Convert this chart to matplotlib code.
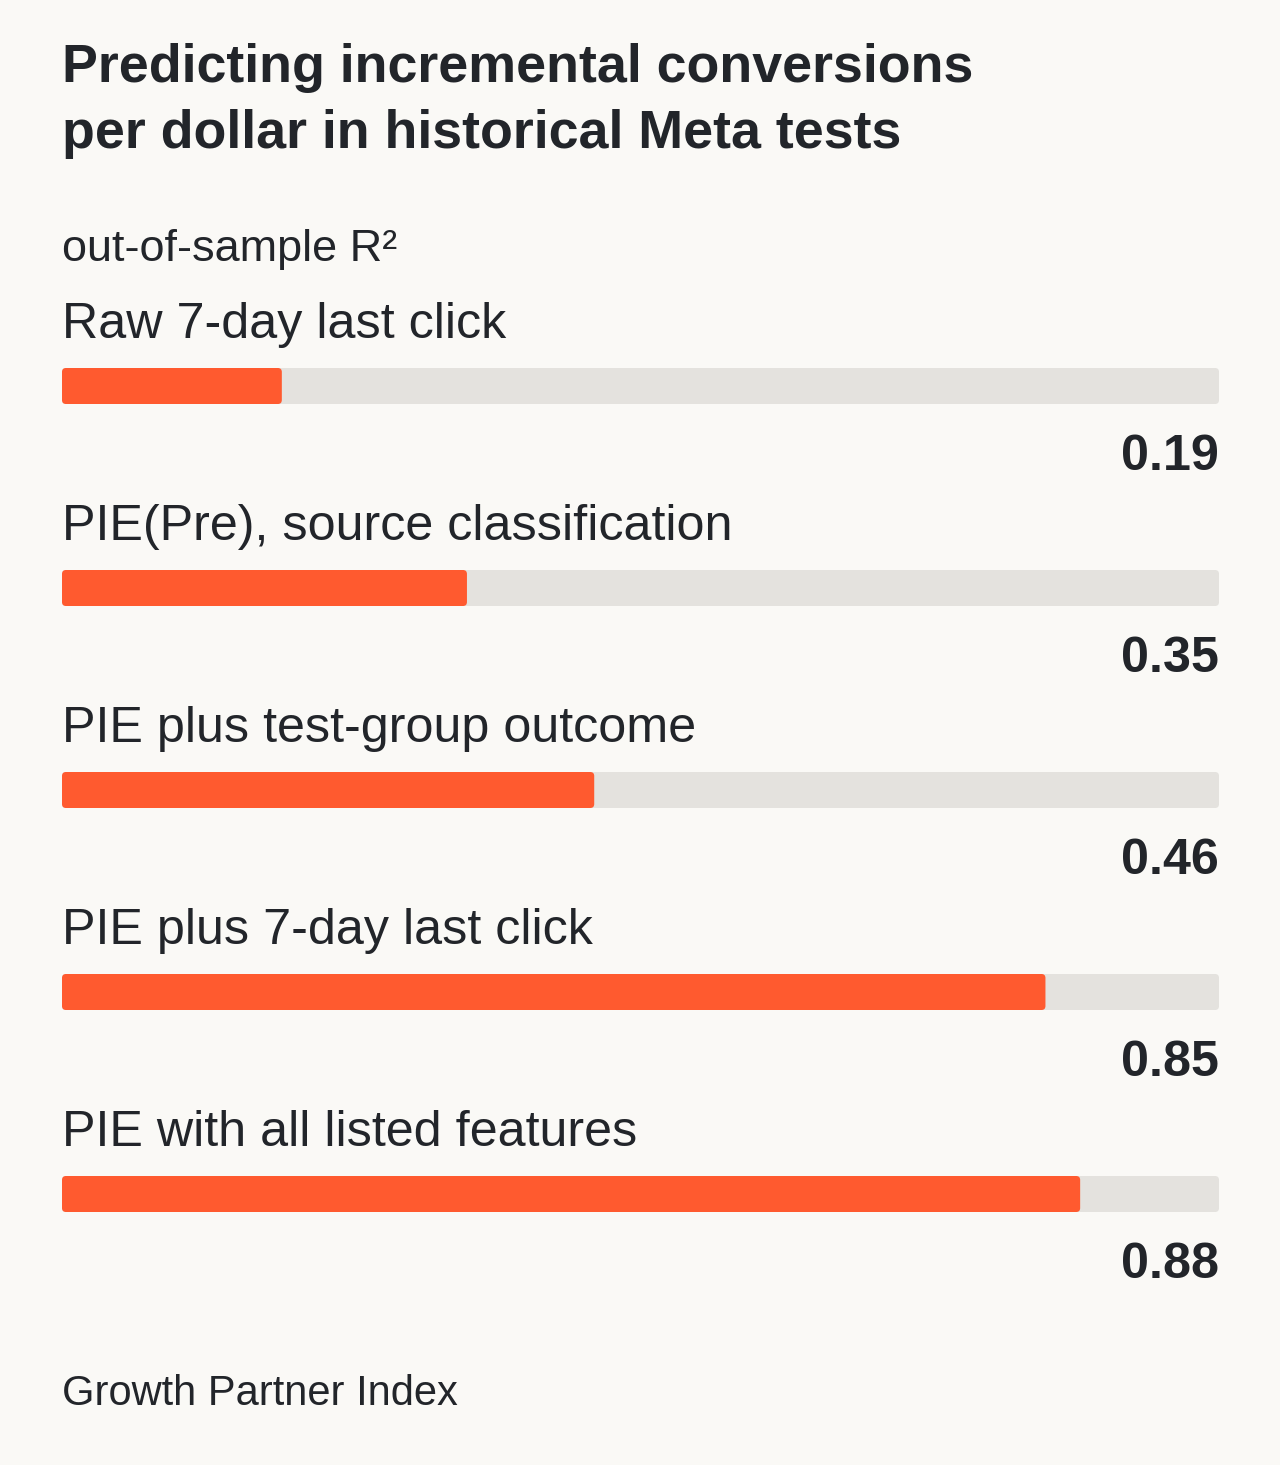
import matplotlib.pyplot as plt
from matplotlib.patches import FancyBboxPatch

labels = ["Raw 7-day last click",
          "PIE(Pre), source classification",
          "PIE plus test-group outcome",
          "PIE plus 7-day last click",
          "PIE with all listed features"]
values = [0.19, 0.35, 0.46, 0.85, 0.88]
value_text = ["0.19", "0.35", "0.46", "0.85", "0.88"]

title = "Predicting incremental conversions\nper dollar in historical Meta tests"
subtitle = "out-of-sample R²"
footer = "Growth Partner Index"

bg = "#FAF9F6"
orange = "#FF5A2F"
track = "#E4E2DE"
ink = "#22252A"

plt.rcParams['font.family'] = ['Liberation Sans', 'DejaVu Sans']

W, H = 1280, 1465
fig = plt.figure(figsize=(W / 100, H / 100), dpi=100, facecolor=bg)

# text layer in pixel coords
ax0 = fig.add_axes([0, 0, 1, 1])
ax0.set_xlim(0, W)
ax0.set_ylim(H, 0)
ax0.axis('off')

# bar layer: x from 62 to 1219 px
left, right = 62, 1219
ax = fig.add_axes([left / W, 0, (right - left) / W, 1])
ax.set_xlim(0, 1)
ax.set_ylim(H, 0)
ax.axis('off')
ax.patch.set_alpha(0)

ax0.text(left, 82, title.split("\n")[0], fontsize=38.7, fontweight='bold', color=ink, va='baseline')
ax0.text(left, 148, title.split("\n")[1], fontsize=38.7, fontweight='bold', color=ink, va='baseline')
ax0.text(left, 261, subtitle, fontsize=32.4, color=ink, va='baseline')

row0, step, bar_h = 386, 202, 36
ys = [row0 + i * step for i in range(len(values))]

def rounded(bars, color):
    for r in bars:
        x, y = r.get_x(), r.get_y()
        w, h = r.get_width(), r.get_height()
        p = FancyBboxPatch((x, y), w, h, boxstyle="round,pad=0,rounding_size=%f" % (4 / (right - left)),
                           mutation_aspect=(right - left), facecolor=color, edgecolor='none')
        r.remove()
        ax.add_patch(p)

rounded(ax.barh(ys, [1] * len(values), height=bar_h, color=track), track)
rounded(ax.barh(ys, values, height=bar_h, color=orange), orange)

for i, y in enumerate(ys):
    ax0.text(left, y - 48, labels[i], fontsize=36.2, color=ink, va='baseline')
    ax0.text(right, y + 84, value_text[i], fontsize=36.2, fontweight='bold', color=ink,
             va='baseline', ha='right')

ax0.text(left, 1405, footer, fontsize=30, color=ink, va='baseline')

fig.savefig("out.png", dpi=100, facecolor=bg)
